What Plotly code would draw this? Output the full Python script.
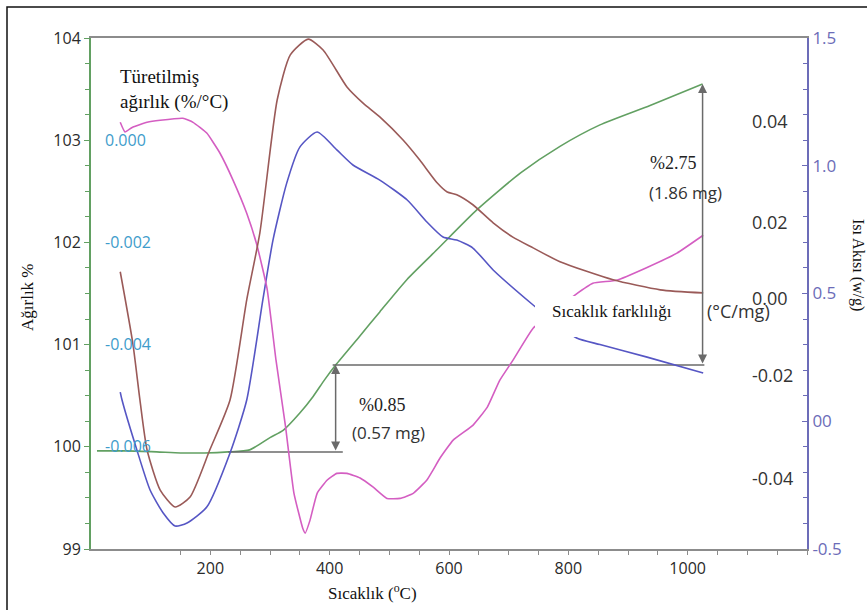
import plotly.graph_objects as go

# ---------------- data ----------------
# Weight (%) vs temperature (°C) - TGA curve
tga_temp = [10, 60, 110, 150, 190, 230, 266, 300, 322, 350, 372, 392, 410, 450, 484,
            530, 580, 647, 720, 786, 853, 937, 1025]
tga_weight = [99.96, 99.96, 99.95, 99.94, 99.94, 99.95, 99.97, 100.09, 100.16, 100.33,
              100.49, 100.66, 100.80, 101.08, 101.32, 101.64, 101.93, 102.32, 102.68,
              102.94, 103.15, 103.34, 103.55]

# Derivative weight (%/°C)
dtg_temp = [49, 57, 69, 94, 116, 154, 171, 194, 216, 238, 261, 278, 295, 310, 326, 340,
            355, 359, 367, 379, 396, 412, 429, 451, 473, 496, 518, 540, 563, 573, 585,
            607, 640, 664, 685, 707, 741, 778, 811, 841, 881, 932, 982, 1026]
dtg_value = [0.00035, 0.00016, 0.00025, 0.00035, 0.00039, 0.00043, 0.00035, 0.00014,
             -0.00025, -0.00078, -0.00143, -0.00205, -0.00290, -0.00430, -0.00560,
             -0.00690, -0.00760, -0.00769, -0.00744, -0.00691, -0.00665, -0.00652,
             -0.00652, -0.00661, -0.00679, -0.00701, -0.00701, -0.00691, -0.00665,
             -0.00646, -0.00622, -0.00587, -0.00558, -0.00523, -0.00470, -0.00431,
             -0.00368, -0.00333, -0.00303, -0.00280, -0.00274, -0.00249, -0.00221,
             -0.00186]

# Temperature difference (°C/mg) - DTA curve
dta_temp = [49, 70, 82, 94, 116, 141, 166, 199, 233, 261, 283, 312, 334, 364, 389, 429,
            456, 484, 523, 551, 580, 597, 613, 640, 674, 707, 741, 786, 875, 954, 1026]
dta_value = [0.0068, -0.0117, -0.0265, -0.0395, -0.0499, -0.0543, -0.0517, -0.0395,
             -0.0265, -0.0005, 0.0169, 0.0514, 0.0631, 0.0672, 0.0644, 0.0548, 0.0506,
             0.0470, 0.0410, 0.0358, 0.0299, 0.0275, 0.0268, 0.0242, 0.0195, 0.0158,
             0.0130, 0.0094, 0.0047, 0.0021, 0.0013]

# Heat flow (W/g) - DSC curve
dsc_temp = [49, 52, 77, 99, 121, 141, 161, 194, 233, 261, 288, 305, 328, 350, 379, 412,
            439, 484, 530, 563, 590, 613, 640, 674, 741, 770, 814, 853, 932, 1026]
dsc_value = [0.114, 0.083, -0.113, -0.269, -0.359, -0.410, -0.398, -0.336, -0.124,
             0.083, 0.475, 0.709, 0.932, 1.073, 1.132, 1.062, 1.003, 0.944, 0.866,
             0.780, 0.721, 0.709, 0.678, 0.592, 0.455, 0.400, 0.326, 0.300, 0.251, 0.189]

# Weight-change steps (%) and the masses they correspond to
step_base_temp = 230
step1_temp, step2_temp = 410, 1025
step_base_weight = 99.95
step1_pct, step2_pct = 0.85, 2.75
step1_mass, step2_mass = "0.57 mg", "1.86 mg"

# Axis tick labels
temp_ticks = [200, 400, 600, 800, 1000]
weight_ticks = [99, 100, 101, 102, 103, 104]
dtg_ticks = [0.0, -0.002, -0.004, -0.006]
dtg_tick_text = ["0.000", "-0.002", "-0.004", "-0.006"]
dsc_ticks = [1.5, 1.0, 0.5, 0.0, -0.5]
dsc_tick_text = ["1.5", "1.0", "0.5", "00", "-0.5"]
dta_tick_text = ["0.04", "0.02", "0.00", "-0.02", "-0.04"]

# ---------------- styling ----------------
W, H = 867, 610
ML, MR, MT, MB = 91, 60, 38, 61
PW, PH = W - ML - MR, H - MT - MB

def px(xp):
    return (xp - ML) / PW

def py(yp):
    return (H - MB - yp) / PH

SANS = "Open Sans"
SERIF = "Liberation Serif"
GREEN = "#62a062"
PINK = "#d45ec2"
BROWN = "#9a5a58"
BLUE = "#5656c4"
AXIS_PURPLE = "#6c6cb8"
DTG_BLUE = "#3e9ccb"
ARROW = "#6a6a6a"


def label(xp, yp, text, family, size, color="#222", xanchor="left", **kw):
    return dict(x=px(xp), y=py(yp), xref="paper", yref="paper", text=text,
                showarrow=False, xanchor=xanchor, yanchor="middle",
                font=dict(family=family, size=size, color=color), **kw)


fig = go.Figure()

fig.add_trace(go.Scatter(x=dta_temp, y=dta_value, yaxis="y4", mode="lines",
                         line=dict(color=BROWN, width=1.6, shape="spline", smoothing=0.6),
                         hoverinfo="skip"))
fig.add_trace(go.Scatter(x=dsc_temp, y=dsc_value, yaxis="y2", mode="lines",
                         line=dict(color=BLUE, width=1.6, shape="spline", smoothing=0.6),
                         hoverinfo="skip"))
fig.add_trace(go.Scatter(x=dtg_temp, y=dtg_value, yaxis="y3", mode="lines",
                         line=dict(color=PINK, width=1.6, shape="spline", smoothing=0.4),
                         hoverinfo="skip"))
fig.add_trace(go.Scatter(x=tga_temp, y=tga_weight, mode="lines",
                         line=dict(color=GREEN, width=1.6, shape="spline", smoothing=0.6),
                         hoverinfo="skip"))

# step levels derived from the stated percentages
lvl0 = step_base_weight
lvl1 = lvl0 + step1_pct
lvl2 = lvl1 + step2_pct

# horizontal reference lines of the steps
fig.add_trace(go.Scatter(x=[step_base_temp, step1_temp + 12], y=[lvl0, lvl0], mode="lines",
                         line=dict(color=ARROW, width=1.5), hoverinfo="skip"))
fig.add_trace(go.Scatter(x=[step1_temp - 5, step2_temp + 3], y=[lvl1, lvl1], mode="lines",
                         line=dict(color=ARROW, width=1.5), hoverinfo="skip"))

annotations = []
# double-headed vertical arrows
for t, y0, y1 in [(step1_temp, lvl0, lvl1), (step2_temp, lvl1, lvl2)]:
    annotations.append(dict(x=t, y=y1, ax=t, ay=y0, xref="x", yref="y", axref="x", ayref="y",
                            text="", showarrow=True, arrowhead=2, arrowside="end+start",
                            arrowsize=1.2, arrowwidth=1.5, arrowcolor=ARROW,
                            startstandoff=0, standoff=0))

# step labels
annotations += [
    label(357, 405, f"%{step1_pct:.2f}", SERIF, 18),
    label(350, 432, f"({step1_mass})", SANS, 17, "#333"),
    label(648, 163, f"%{step2_pct:.2f}", SERIF, 18),
    label(647, 192, f"({step2_mass})", SANS, 17, "#333"),
]

# DTA scale labels
dta_label_y = [121, 222, 298, 375, 478]
for txt, yp in zip(dta_tick_text, dta_label_y):
    annotations.append(label(750, yp, txt, SANS, 18, "#333"))
annotations.append(label(705, 311, "(°C/mg)", SANS, 18, "#333"))

# curve / axis captions
annotations += [
    label(118, 89, "Türetilmiş<br>ağırlık (%/°C)", SERIF, 19, "#111", align="left"),
    label(612, 311, "Sıcaklık farklılığı", SERIF, 17, "#111", xanchor="center"),
    label(372, 592, "Sıcaklık (<sup>o</sup>C)", SERIF, 17, "#111", xanchor="center"),
    label(27, 297, "Ağırlık %", SERIF, 17, "#111", xanchor="center", textangle=-90),
    label(858, 265, "Isı Akısı (w/g)", SERIF, 16, "#111", xanchor="center", textangle=90),
]

shapes = [
    # blank panel behind the DTA caption
    dict(type="rect", xref="paper", yref="paper", x0=px(535), x1=px(702),
         y0=py(337), y1=py(296), fillcolor="white", line=dict(width=0), layer="above"),
    # outer frame
    dict(type="rect", xref="paper", yref="paper", x0=px(7), x1=px(900),
         y0=py(640), y1=py(7), line=dict(color="#111", width=1.5),
         fillcolor="rgba(0,0,0,0)", layer="above"),
]

fig.update_layout(
    width=W, height=H,
    margin=dict(l=ML, r=MR, t=MT, b=MB, pad=0),
    paper_bgcolor="white", plot_bgcolor="white",
    showlegend=False,
    font=dict(family=SANS, color="#333"),
    xaxis=dict(range=[0, 1200], tickvals=temp_ticks, showgrid=False, zeroline=False,
               showline=True, linecolor="#8c8c8c", linewidth=2, mirror=True,
               ticks="outside", ticklen=4, tickcolor="#8c8c8c",
               minor=dict(dtick=50, ticks="outside", ticklen=4, tickcolor="#8c8c8c"),
               tickfont=dict(family=SANS, size=16, color="#2a2a2a")),
    yaxis=dict(range=[99, 104], tickvals=weight_ticks, showgrid=False, zeroline=False,
               showline=True, linecolor=GREEN, linewidth=2,
               ticks="outside", ticklen=5, tickcolor=GREEN,
               minor=dict(dtick=0.25, ticks="outside", ticklen=4, tickcolor=GREEN),
               tickfont=dict(family=SANS, size=16, color="#2a2a2a")),
    yaxis2=dict(range=[-0.5, 1.5], overlaying="y", side="right", anchor="x",
                tickvals=dsc_ticks, ticktext=dsc_tick_text, showgrid=False, zeroline=False,
                showline=True, linecolor=AXIS_PURPLE, linewidth=2,
                ticks="inside", ticklen=5, tickcolor=AXIS_PURPLE,
                minor=dict(dtick=0.1, ticks="inside", ticklen=4, tickcolor=AXIS_PURPLE),
                tickfont=dict(family=SANS, size=17, color=AXIS_PURPLE)),
    yaxis3=dict(range=[-0.008, 0.002], overlaying="y", side="left", anchor="free",
                position=0, tickvals=dtg_ticks, ticktext=dtg_tick_text,
                ticklabelposition="inside", ticklabelstandoff=10, ticks="",
                showline=False, showgrid=False, zeroline=False,
                tickfont=dict(family=SANS, size=16, color=DTG_BLUE)),
    yaxis4=dict(range=[-0.0652, 0.0675], overlaying="y", visible=False),
    annotations=annotations,
    shapes=shapes,
)

fig.write_html("out.html")
